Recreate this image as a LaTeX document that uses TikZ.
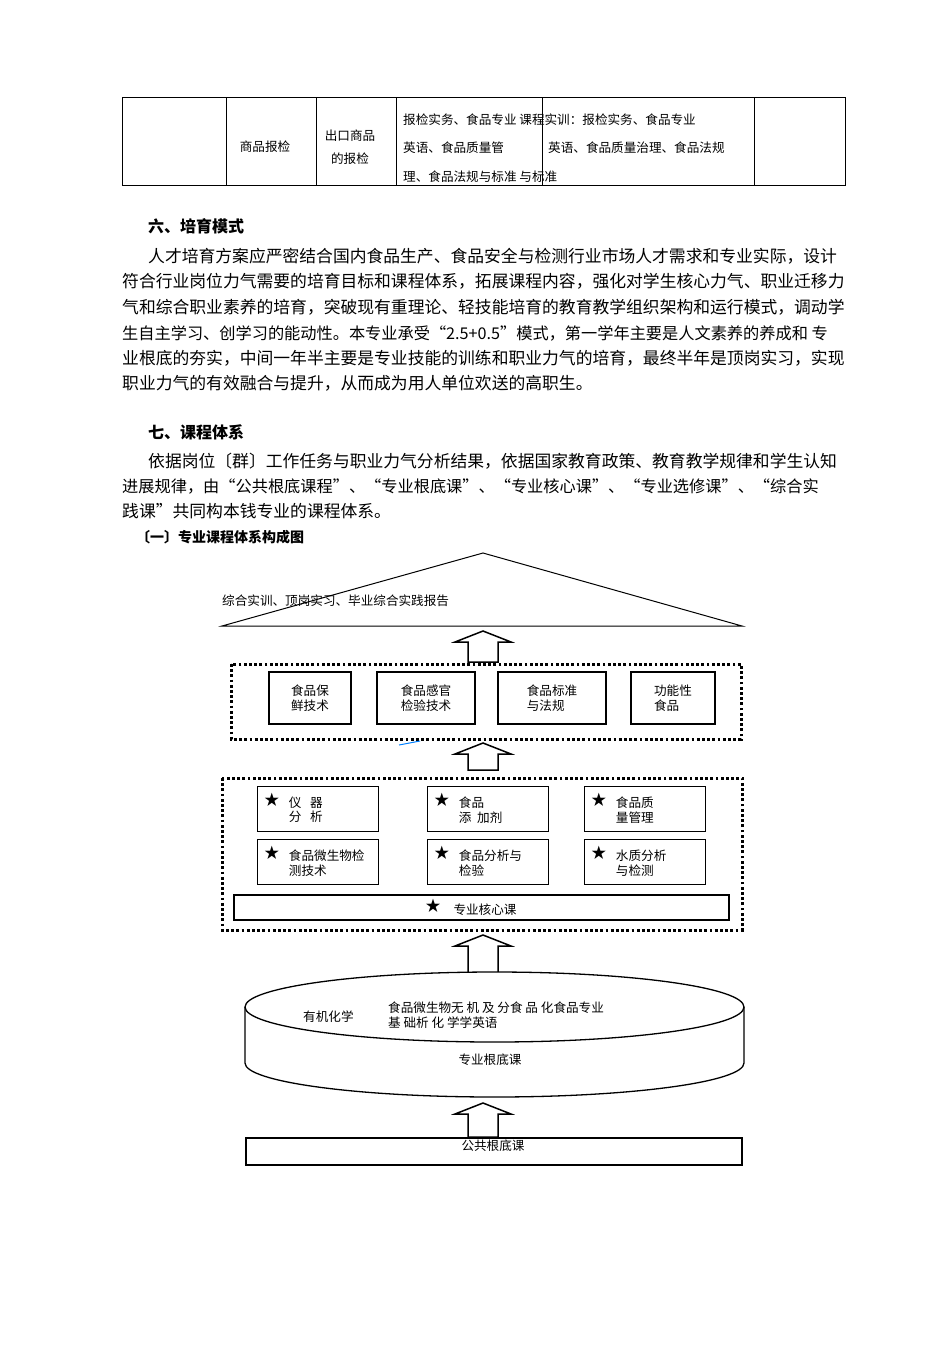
\documentclass[tikz,border=0pt]{standalone}
\usepackage{fontspec}
\setmainfont{Noto Sans CJK SC}
\usetikzlibrary{calc}
\tikzset{
  body/.style={anchor=west,inner sep=0,font=\fontsize{16.8}{18}\selectfont},
  bodyn/.style={anchor=west,inner sep=0,font=\fontsize{16.2}{18}\selectfont},
  head/.style={anchor=west,inner sep=0,font=\fontsize{16}{18}\selectfont\bfseries},
  small/.style={inner sep=0,font=\fontsize{12.6}{14.5}\selectfont,align=left},
  tbl/.style={draw,line width=0.9pt},
  cbox/.style={draw,line width=1.5pt},
  dotframe/.style={draw,line width=3pt,dash pattern=on 2.8pt off 2.4pt},
  barrow/.style={draw,line width=1.5pt,fill=white},
  star/.style={inner sep=0,font=\fontsize{15}{15}\selectfont}
}
\newcommand\blockup[4]{% name, cx, tip, bottom
  \draw[barrow] ({#2-15},#4) -- ({#2-15},{#3+11}) -- ({#2-28},{#3+11}) -- (#2,#3) -- ({#2+28},{#3+11}) -- ({#2+15},{#3+11}) -- ({#2+15},#4) -- cycle;
  \coordinate (#1) at (#2,#3);}
\begin{document}
\begin{tikzpicture}[x=1pt,y=-1pt]
\useasboundingbox[fill=white] (0,0) rectangle (950,1345);
% table
\draw[tbl] (122,97) rectangle (845,185);
\foreach \xx in {226,316,396,542,754} \draw[tbl] (\xx,97) -- (\xx,185);
\node[small] (t1) at (265,147) {商品报检};
\node[small,align=center] (t2) at (350,147) {出口商品\\[9pt]的报检};
\node[small,anchor=west] (t3) at (403,120) {报检实务、食品专业 课程实训：报检实务、食品专业};
\node[small,anchor=west] (t4) at (403,148) {英语、食品质量管};
\node[small,anchor=west] (t5) at (403,177) {理、食品法规与标准 与标准};
\node[small,anchor=west] (t6) at (548,148) {英语、食品质量治理、食品法规};
% section 6
\node[head] (h6) at (148,226) {六、培育模式};
\node[body] (p1) at (148,256) {人才培育方案应严密结合国内食品生产、食品安全与检测行业市场人才需求和专业实际，设计};
\node[body] (p2) at (122,281) {符合行业岗位力气需要的培育目标和课程体系，拓展课程内容，强化对学生核心力气、职业迁移力};
\node[body] (p3) at (122,307) {气和综合职业素养的培育，突破现有重理论、轻技能培育的教育教学组织架构和运行模式，调动学};
\node[bodyn] (p4) at (122,333) {生自主学习、创学习的能动性。本专业承受“2.5+0.5”模式，第一学年主要是人文素养的养成和 专};
\node[body] (p5) at (122,358) {业根底的夯实，中间一年半主要是专业技能的训练和职业力气的培育，最终半年是顶岗实习，实现};
\node[body] (p6) at (122,383) {职业力气的有效融合与提升，从而成为用人单位欢送的高职生。};
% section 7
\node[head] (h7) at (148,432) {七、课程体系};
\node[body] (q1) at (148,461) {依据岗位〔群〕工作任务与职业力气分析结果，依据国家教育政策、教育教学规律和学生认知};
\node[bodyn] (q2) at (122,486) {进展规律，由“公共根底课程”、“专业根底课”、“专业核心课”、“专业选修课”、“综合实};
\node[body] (q3) at (122,511) {践课”共同构本钱专业的课程体系。};
\node[head,font=\fontsize{14}{16}\selectfont\bfseries] (h71) at (136,537) {〔一〕专业课程体系构成图};
% roof
\draw[line width=1pt] (222,626) -- (483,553) -- (742,626) -- cycle;
\node[small,anchor=west] (roof) at (222,601) {综合实训、顶岗实习、毕业综合实践报告};
\blockup{a1}{483}{631}{662}
% electives
\draw[dotframe] (231,664) rectangle (741,739);
\node[cbox,minimum width=82,minimum height=52,small,align=left] (e1) at (310,698) {食品保\\鲜技术};
\node[cbox,minimum width=98,minimum height=52,small,align=left] (e2) at (426,698) {食品感官\\检验技术};
\node[cbox,minimum width=108,minimum height=52,small,align=left] (e3) at (552,698) {食品标准\\与法规};
\node[cbox,minimum width=84,minimum height=52,small,align=left] (e4) at (673,698) {功能性\\食品};
\draw[blue!50!cyan,line width=1pt] (399,745) -- (420,741);
\blockup{a2}{483}{743}{770}
% core
\draw[dotframe] (222,778) rectangle (742,930);
\foreach \nm/\cx/\cy/\txt in {c1/318/809/{仪\ \ \ 器\\分\ \ \ 析}, c2/488/809/{食品\\添\ \ 加剂}, c3/645/809/{食品质\\量管理},
  c4/318/862/{食品微生物检\\测技术}, c5/488/862/{食品分析与\\检验}, c6/645/862/{水质分析\\与检测}}{
  \node[cbox,minimum width=121,minimum height=45] (\nm) at (\cx,\cy) {};
  \node[star] (\nm s) at ($(\nm.north west)+(15,14)$) {★};
  \node[small,anchor=north west] (\nm t) at ($(\nm.north west)+(32,11)$) {\txt};
}
\node[cbox,minimum width=495,minimum height=25] (core) at (481.5,907.5) {};
\node[star] (cores) at (433,906) {★};
\node[small] (coret) at (485,910) {专业核心课};
\blockup{a3}{483}{935}{975}
% cylinder
\draw[line width=1.3pt,fill=white] (245,1007) -- (245,1063) arc[start angle=180,end angle=0,x radius=249.5,y radius=34] -- (744,1007);
\draw[line width=1.3pt,fill=white] (494.5,1007) ellipse[x radius=249.5,y radius=35];
\node[small,anchor=west] (b1) at (303,1017) {有机化学};
\node[small,anchor=west] (b2) at (388,1015) {食品微生物无 机 及 分食 品 化食品专业\\基 础析 化 学学英语};
\node[small] (b3) at (490,1060) {专业根底课};
\blockup{a4}{483}{1103}{1137}
\node[draw,line width=1.6pt,minimum width=496,minimum height=27] (pub) at (494,1151.5) {};
\node[small] (pubt) at (493,1146) {公共根底课};
\end{tikzpicture}
\end{document}
